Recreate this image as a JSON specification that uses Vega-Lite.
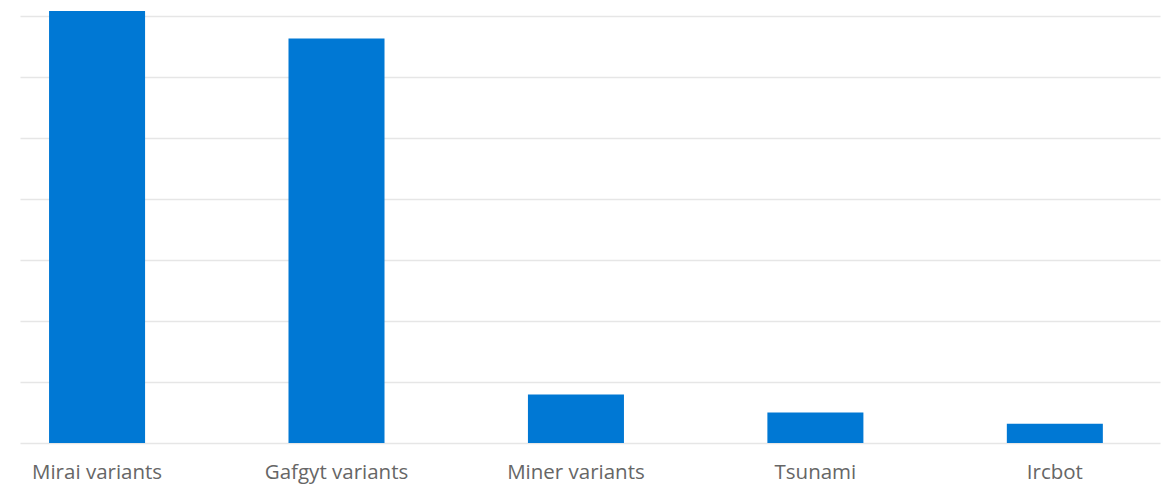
{
  "$schema": "https://vega.github.io/schema/vega-lite/v6.json",
  "width": 1140,
  "height": 443,
  "autosize": {"type": "none"},
  "padding": {"left": 20, "top": 0, "right": 3, "bottom": 43},
  "background": "white",
  "config": {"view": {"stroke": null}},
  "data": {
    "values": [
      {"family": "Mirai variants", "value": 70.8},
      {"family": "Gafgyt variants", "value": 66.3},
      {"family": "Miner variants", "value": 7.95},
      {"family": "Tsunami", "value": 5.0},
      {"family": "Ircbot", "value": 3.15}
    ]
  },
  "mark": {"type": "bar", "color": "#0078d4"},
  "encoding": {
    "x": {
      "field": "family",
      "type": "nominal",
      "sort": null,
      "scale": {"paddingInner": 0.599, "paddingOuter": 0.18, "align": 0.337},
      "axis": {
        "title": null,
        "labelAngle": 0,
        "labelFont": "Open Sans",
        "labelFontSize": 20.5,
        "labelColor": "#666666",
        "labelPadding": 19,
        "ticks": false,
        "domain": false
      }
    },
    "y": {
      "field": "value",
      "type": "quantitative",
      "scale": {"domain": [0, 72.6], "nice": false},
      "axis": {
        "title": null,
        "labels": false,
        "ticks": false,
        "domain": false,
        "values": [0, 10, 20, 30, 40, 50, 60, 70],
        "gridColor": "#e6e6e6",
        "gridWidth": 1.5
      }
    }
  }
}
